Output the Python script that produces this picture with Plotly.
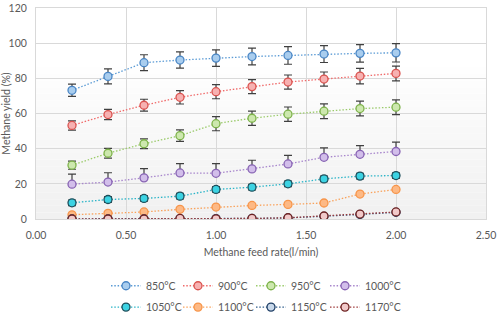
import plotly.graph_objects as go

feed_rate = [0.2, 0.4, 0.6, 0.8, 1.0, 1.2, 1.4, 1.6, 1.8, 2.0]

names = ["850°C", "900°C", "950°C", "1000°C", "1050°C", "1100°C", "1150°C", "1170°C"]

y850 = [73.2, 81.1, 88.9, 90.4, 91.5, 92.4, 93.0, 93.8, 94.2, 94.5]
y900 = [53.2, 59.4, 64.7, 69.2, 72.4, 75.3, 77.9, 79.6, 81.3, 82.8]
y950 = [30.6, 37.4, 42.8, 47.4, 54.2, 57.3, 59.6, 61.3, 62.8, 63.6]
y1000 = [19.8, 21.0, 23.4, 26.2, 26.0, 28.5, 31.3, 35.1, 36.8, 38.4]
y1050 = [9.2, 11.1, 11.7, 13.0, 16.8, 18.1, 20.0, 22.8, 24.4, 24.7]
y1100 = [2.4, 3.2, 4.0, 5.5, 6.8, 7.7, 8.3, 9.1, 14.2, 16.8]
y1150 = [0.1, 0.1, 0.1, 0.2, 0.2, 0.3, 0.6, 1.5, 2.6, 3.8]
y1170 = [0.0, 0.0, 0.0, 0.3, 0.1, 0.3, 0.7, 1.7, 2.8, 4.0]

e850 = [3.5, 4.3, 4.5, 4.6, 4.7, 4.8, 5.0, 4.8, 5.0, 5.2]
e900 = [2.6, 2.9, 3.4, 3.8, 4.0, 4.0, 4.0, 4.0, 4.4, 4.2]
e950 = [2.3, 2.8, 2.8, 3.3, 4.0, 4.0, 4.1, 4.2, 4.2, 4.2]
e1000_up = [5.7, 5.3, 5.3, 5.3, 5.5, 4.9, 4.9, 5.3, 4.9, 5.3]
e1000_dn = [0, 0, 0, 0, 0, 0, 0, 0, 0, 0]
e1050 = [1.6, 1.6, 1.6, 1.6, 1.6, 1.6, 1.6, 1.6, 1.6, 1.6]

y_ticks = [0, 20, 40, 60, 80, 100, 120]
x_ticks = [0.0, 0.5, 1.0, 1.5, 2.0, 2.5]

series = [y850, y900, y950, y1000, y1050, y1100, y1150, y1170]
err_up = [e850, e900, e950, e1000_up, e1050, None, None, None]
err_dn = [e850, e900, e950, e1000_dn, e1050, None, None, None]

line_colors = ["#5B9BD5", "#F06A6A", "#9BCB6B", "#A785CC", "#2BB5C8", "#F9A25B", "#2E5C8A", "#9E3A3A"]
fill_colors = ["#A9CDEE", "#F7B1B1", "#CDE8AE", "#D2BEEA", "#3CD3E3", "#FDB985", "#C8D8EA", "#F1C9C9"]
edge_colors = ["#4A86C5", "#D9534F", "#7DB24A", "#8763B3", "#1E4F5C", "#F7954A", "#1F3F66", "#6E2222"]

fig = go.Figure()

# subtle vertical gradient in plot background
nb = 24
for i in range(nb):
    y0 = i / nb * 0.75
    y1 = (i + 1) / nb * 0.75
    g = int(241 + (255 - 241) * (i / (nb - 1)))
    fig.add_shape(type="rect", xref="paper", yref="paper", x0=0, x1=1, y0=y0, y1=y1,
                  fillcolor=f"rgb({g},{g},{g})", line_width=0, layer="below")

legend_ids = ["legend"] + [f"legend{i}" for i in range(2, 9)]

for k in range(8):
    tr = dict(
        x=feed_rate, y=series[k], name=names[k], mode="lines+markers",
        line=dict(color=line_colors[k], width=1.3, dash="1.5px,1.8px"),
        marker=dict(symbol="circle", size=8, color=fill_colors[k],
                    line=dict(color=edge_colors[k], width=1.3)),
        legend=legend_ids[k], showlegend=True,
    )
    if err_up[k] is not None:
        tr["error_y"] = dict(type="data", array=err_up[k], arrayminus=err_dn[k],
                             symmetric=False, color="#404040", thickness=1.2, width=4)
    fig.add_trace(go.Scatter(**tr))

font = dict(family="Lato, Open Sans, sans-serif", size=10.5, color="#595959")

legend_common = dict(orientation="h", xanchor="left", yanchor="middle",
                     xref="container", yref="container", visible=True,
                     font=font, bgcolor="rgba(0,0,0,0)", itemwidth=30)

col_px = [106, 178, 251, 325]
row_y = [0.09, 0.022]
legend_layout = {}
for k in range(8):
    legend_layout[legend_ids[k]] = dict(x=col_px[k % 4] / 498, y=row_y[k // 4], **legend_common)

fig.update_layout(
    width=498, height=314,
    margin=dict(l=36, r=12, t=8, b=95, autoexpand=False),
    paper_bgcolor="white", plot_bgcolor="rgba(0,0,0,0)",
    font=font, showlegend=True,
    **legend_layout,
    xaxis=dict(range=[0, 2.5], tickmode="array", tickvals=x_ticks, tickformat=".2f",
               showgrid=True, gridcolor="#D9D9D9", gridwidth=1,
               showline=True, linecolor="#D9D9D9", mirror=True,
               zeroline=False, ticks="outside", ticklen=6, tickcolor="rgba(0,0,0,0)",
               tickfont=font, ticklabeloverflow="allow",
               title=dict(text="Methane feed rate(l/min)", font=font, standoff=9)),
    yaxis=dict(range=[0, 120], tickmode="array", tickvals=y_ticks,
               showgrid=True, gridcolor="#D9D9D9", gridwidth=1,
               showline=True, linecolor="#D9D9D9", mirror=True,
               zeroline=False, ticks="outside", ticklen=6, tickcolor="rgba(0,0,0,0)",
               tickfont=font, ticklabeloverflow="allow",
               title=dict(text="Methane yield (%)", font=font, standoff=4)),
)

fig.write_html("out.html", config={"displayModeBar": False},
               post_script="document.body.style.margin='0';document.body.style.padding='0';")
